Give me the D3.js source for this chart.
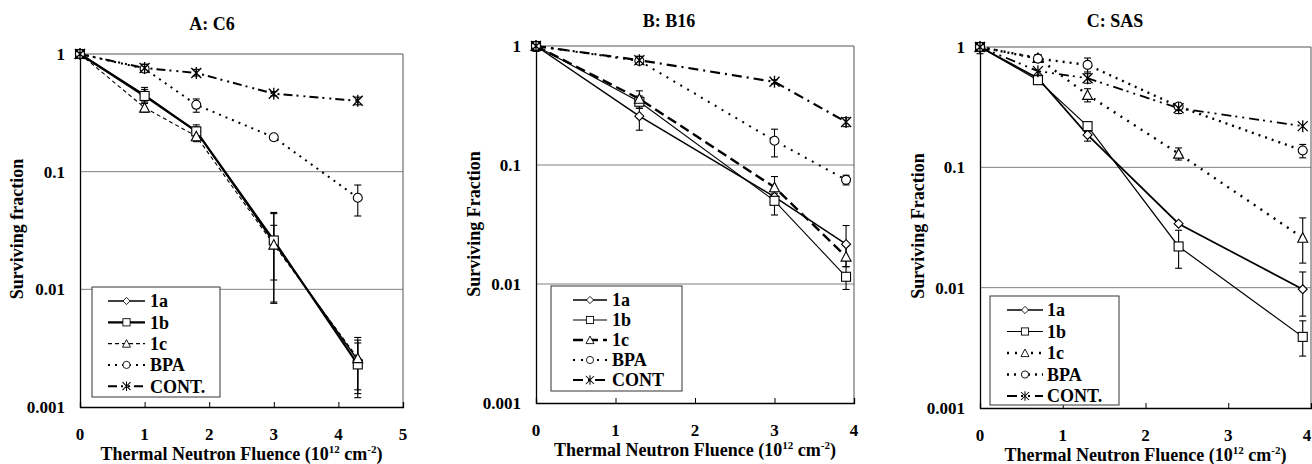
<!DOCTYPE html>
<html>
<head>
<meta charset="utf-8">
<script src="https://cdn.jsdelivr.net/npm/d3@7/dist/d3.min.js"></script>
<style>
  html, body { margin: 0; padding: 0; background: #fff; }
  svg { display: block; }
  text { font-family: "Liberation Serif", "Times New Roman", serif; font-weight: bold; fill: #000; }
</style>
</head>
<body>
<svg id="chart" width="1312" height="464"></svg>
<script>
// ---------------- DATA ----------------
const seriesNames = ["1a", "1b", "1c", "BPA", "CONT"];
const yTickValues = [1, 0.1, 0.01, 0.001];
const yTickLabels = ["1", "0.1", "0.01", "0.001"];

// Panel A: C6
const A_fluence = [0, 1, 1.8, 3, 4.3];
const A_1a   = [1, 0.45, 0.22, 0.025, 0.0025];
const A_1b   = [1, 0.44, 0.22, 0.026, 0.0023];
const A_1c   = [1, 0.35, 0.20, 0.024, 0.0026];
const A_BPA  = [1, 0.75, 0.37, 0.196, 0.06];
const A_CONT = [1, 0.76, 0.69, 0.46, 0.40];
const A_1a_lo   = [null, 0.40, 0.19, 0.012, 0.0013];
const A_1a_hi   = [null, 0.52, 0.25, 0.035, 0.0037];
const A_1b_lo   = [null, 0.39, 0.20, 0.0076, 0.0012];
const A_1b_hi   = [null, 0.50, 0.24, 0.045, 0.0039];
const A_1c_lo   = [null, 0.32, 0.18, 0.0078, 0.0014];
const A_1c_hi   = [null, 0.38, 0.23, 0.044, 0.0035];
const A_BPA_lo  = [null, 0.70, 0.32, null, 0.042];
const A_BPA_hi  = [null, 0.80, 0.415, null, 0.077];
const A_CONT_lo = [null, 0.71, 0.65, 0.44, 0.37];
const A_CONT_hi = [null, 0.82, 0.74, 0.48, 0.43];
const A_xTicks = [0, 1, 2, 3, 4, 5];
const A_legend = ["1a", "1b", "1c", "BPA", "CONT."];

// Panel B: B16
const B_fluence = [0, 1.3, 3, 3.9];
const B_1a   = [1, 0.257, 0.054, 0.0216];
const B_1b   = [1, 0.34, 0.05, 0.0115];
const B_1c   = [1, 0.36, 0.065, 0.017];
const B_BPA  = [1, 0.75, 0.16, 0.075];
const B_CONT = [1, 0.76, 0.50, 0.23];
const B_1a_lo   = [0.90, 0.196, null, 0.014];
const B_1a_hi   = [1.0, 0.30, null, 0.031];
const B_1b_lo   = [null, 0.30, 0.038, 0.009];
const B_1b_hi   = [null, 0.38, 0.058, 0.014];
const B_1c_lo   = [null, 0.32, 0.055, 0.014];
const B_1c_hi   = [null, 0.42, 0.08, 0.021];
const B_BPA_lo  = [null, 0.70, 0.117, 0.068];
const B_BPA_hi  = [null, 0.80, 0.20, 0.082];
const B_CONT_lo = [null, 0.70, 0.48, 0.21];
const B_CONT_hi = [null, 0.82, 0.52, 0.25];
const B_xTicks = [0, 1, 2, 3, 4];
const B_legend = ["1a", "1b", "1c", "BPA", "CONT"];

// Panel C: SAS
const C_fluence = [0, 0.7, 1.3, 2.4, 3.9];
const C_1a   = [1, 0.55, 0.186, 0.034, 0.0097];
const C_1b   = [1, 0.53, 0.22, 0.022, 0.0039];
const C_1c   = [1, 0.81, 0.40, 0.13, 0.026];
const C_BPA  = [1, 0.80, 0.71, 0.32, 0.138];
const C_CONT = [1, 0.63, 0.55, 0.31, 0.22];
const C_1a_lo   = [null, null, 0.165, null, 0.0058];
const C_1a_hi   = [null, null, 0.20, null, 0.0135];
const C_1b_lo   = [null, null, null, 0.0145, 0.0027];
const C_1b_hi   = [null, null, null, 0.030, 0.0053];
const C_1c_lo   = [null, 0.75, 0.35, 0.115, 0.016];
const C_1c_hi   = [null, 0.86, 0.45, 0.145, 0.038];
const C_BPA_lo  = [null, 0.75, 0.62, null, 0.12];
const C_BPA_hi  = [null, 0.86, 0.81, null, 0.155];
const C_CONT_lo = [0.88, null, 0.50, 0.28, null];
const C_CONT_hi = [1.0, null, 0.60, 0.34, null];
const C_xTicks = [0, 1, 2, 3, 4];
const C_legend = ["1a", "1b", "1c", "BPA", "CONT."];

// ---------------- STYLE / LAYOUT ----------------
const W = 1312;
const FS_TICK = 17, FS_TEXT = 18, FS_SUP = 11;

const panels = [
  { title: "A: C6", ylabel: "Surviving fraction",
    x: A_fluence, ys: [A_1a, A_1b, A_1c, A_BPA, A_CONT],
    lo: [A_1a_lo, A_1b_lo, A_1c_lo, A_BPA_lo, A_CONT_lo],
    hi: [A_1a_hi, A_1b_hi, A_1c_hi, A_BPA_hi, A_CONT_hi],
    xTicks: A_xTicks, legend: A_legend,
    box: { l: 80, r: 403, t: 54, b: 407 }, xmax: 5,
    titlePos: [212, 30], ylabelX: 17, ylabelY: 229,
    tickBase: 440, xtitleBase: 460,
    leg: { x: 92, y: 287, w: 128, h: 110, row: 21.3, x0: 108, x1: 145, tx: 150 },
    styles: [
      { w: 1.5, dash: null },
      { w: 2.2, dash: null },
      { w: 1.1, dash: "4,3" },
      { w: 2, dash: "2,5" },
      { w: 2, dash: "9,4,2,5,2,4" }
    ] },
  { title: "B: B16", ylabel: "Surviving Fraction",
    x: B_fluence, ys: [B_1a, B_1b, B_1c, B_BPA, B_CONT],
    lo: [B_1a_lo, B_1b_lo, B_1c_lo, B_BPA_lo, B_CONT_lo],
    hi: [B_1a_hi, B_1b_hi, B_1c_hi, B_BPA_hi, B_CONT_hi],
    xTicks: B_xTicks, legend: B_legend,
    box: { l: 536, r: 854, t: 46, b: 403 }, xmax: 4,
    titlePos: [669, 27], ylabelX: 474, ylabelY: 224,
    tickBase: 436, xtitleBase: 456,
    leg: { x: 551, y: 286, w: 131, h: 105, row: 20, x0: 573, x1: 607, tx: 612 },
    styles: [
      { w: 1.5, dash: null },
      { w: 1.1, dash: null },
      { w: 2.4, dash: "10,5" },
      { w: 2, dash: "2,6" },
      { w: 2.2, dash: "10,5,2,5" }
    ] },
  { title: "C: SAS", ylabel: "Surviving Fraction",
    x: C_fluence, ys: [C_1a, C_1b, C_1c, C_BPA, C_CONT],
    lo: [C_1a_lo, C_1b_lo, C_1c_lo, C_BPA_lo, C_CONT_lo],
    hi: [C_1a_hi, C_1b_hi, C_1c_hi, C_BPA_hi, C_CONT_hi],
    xTicks: C_xTicks, legend: C_legend,
    box: { l: 980, r: 1311, t: 47, b: 408 }, xmax: 4,
    titlePos: [1115, 27], ylabelX: 918, ylabelY: 226,
    tickBase: 441, xtitleBase: 461,
    leg: { x: 990, y: 296, w: 129, h: 109, row: 21.5, x0: 1007, x1: 1043, tx: 1047 },
    styles: [
      { w: 1.7, dash: null },
      { w: 1.2, dash: null },
      { w: 2.4, dash: "2,6" },
      { w: 2.4, dash: "2,5" },
      { w: 1.8, dash: "10,4,2,5,2,5" }
    ] }
];

const svg = d3.select("#chart");

function drawMarker(g, type, cx, cy) {
  const m = g.append("g").attr("transform", `translate(${cx},${cy})`);
  const st = s => s.attr("fill", "#fff").attr("stroke", "#000").attr("stroke-width", 1.1);
  if (type === 0) { // diamond
    st(m.append("path").attr("d", "M0,-4.5L4.5,0L0,4.5L-4.5,0Z"));
  } else if (type === 1) { // square
    st(m.append("rect").attr("x", -4.5).attr("y", -4.5).attr("width", 9).attr("height", 9));
  } else if (type === 2) { // triangle
    st(m.append("path").attr("d", "M0,-5L5,4.5L-5,4.5Z"));
  } else if (type === 3) { // circle
    st(m.append("circle").attr("r", 4.5));
  } else { // asterisk
    m.append("path").attr("d", "M-5,-5L5,5M-5,5L5,-5M0,-6L0,6")
      .attr("stroke", "#000").attr("stroke-width", 1.3).attr("fill", "none");
  }
}

panels.forEach(p => {
  const g = svg.append("g");
  const x = d3.scaleLinear().domain([0, p.xmax]).range([p.box.l, p.box.r]);
  const y = d3.scaleLog().domain([0.001, 1]).range([p.box.b, p.box.t]);

  // gridlines
  g.append("g").selectAll("line").data([0.1, 0.01]).join("line")
    .attr("x1", p.box.l).attr("x2", p.box.r)
    .attr("y1", d => y(d)).attr("y2", d => y(d))
    .attr("stroke", "#808080").attr("stroke-width", 1);

  // frame top/right
  g.append("path")
    .attr("d", `M${p.box.l},${p.box.t}H${p.box.r}V${p.box.b}`)
    .attr("fill", "none").attr("stroke", "#555").attr("stroke-width", 1);

  // bottom axis with inward ticks
  const xAxis = d3.axisBottom(x).tickValues(p.xTicks).tickSize(-5).tickFormat("");
  const gx = g.append("g").attr("transform", `translate(0,${p.box.b})`).call(xAxis);
  gx.select(".domain").attr("stroke", "#000").attr("stroke-width", 1.3);
  gx.selectAll(".tick line").attr("stroke", "#000");
  g.append("g").selectAll("text").data(p.xTicks).join("text")
    .attr("x", d => Math.min(x(d), W - 5)).attr("y", p.tickBase)
    .attr("text-anchor", "middle").attr("font-size", FS_TICK).text(d => d);

  // left axis
  const yAxis = d3.axisLeft(y).tickValues(yTickValues).tickSize(0).tickFormat("");
  const gy = g.append("g").attr("transform", `translate(${p.box.l},0)`).call(yAxis);
  gy.select(".domain").attr("stroke", "#000").attr("stroke-width", 1.3);
  g.append("g").selectAll("text").data(yTickValues).join("text")
    .attr("x", p.box.l - 15).attr("y", d => y(d)).attr("dy", "0.35em")
    .attr("text-anchor", "end").attr("font-size", FS_TICK)
    .text((d, i) => yTickLabels[i]);

  // titles
  g.append("text").attr("x", p.titlePos[0]).attr("y", p.titlePos[1])
    .attr("text-anchor", "middle").attr("font-size", FS_TEXT).text(p.title);
  g.append("text")
    .attr("transform", `translate(${p.ylabelX},${p.ylabelY}) rotate(-90)`)
    .attr("text-anchor", "middle").attr("dy", "0.35em").attr("font-size", FS_TEXT)
    .text(p.ylabel);
  const xt = g.append("text").attr("x", (p.box.l + p.box.r) / 2).attr("y", p.xtitleBase)
    .attr("text-anchor", "middle").attr("font-size", FS_TEXT);
  xt.append("tspan").text("Thermal Neutron Fluence (10");
  xt.append("tspan").attr("font-size", FS_SUP).attr("dy", -7).text("12");
  xt.append("tspan").attr("dy", 7).text(" cm");
  xt.append("tspan").attr("font-size", FS_SUP).attr("dy", -7).text("-2");
  xt.append("tspan").attr("dy", 7).text(")");

  // series lines
  const line = d3.line().x(d => x(d[0])).y(d => y(d[1]));
  p.ys.forEach((vals, si) => {
    const pts = p.x.map((xv, i) => [xv, vals[i]]);
    g.append("path").datum(pts).attr("d", line)
      .attr("fill", "none").attr("stroke", "#000")
      .attr("stroke-width", p.styles[si].w)
      .attr("stroke-dasharray", p.styles[si].dash);
  });

  // error bars
  p.ys.forEach((vals, si) => {
    p.x.forEach((xv, i) => {
      const lo = p.lo[si][i], hi = p.hi[si][i];
      if (lo == null || hi == null) return;
      const cx = x(xv);
      const eb = g.append("g").attr("stroke", "#000").attr("stroke-width", 1.1);
      eb.append("line").attr("x1", cx).attr("x2", cx).attr("y1", y(lo)).attr("y2", y(hi));
      eb.append("line").attr("x1", cx - 3.5).attr("x2", cx + 3.5).attr("y1", y(lo)).attr("y2", y(lo));
      eb.append("line").attr("x1", cx - 3.5).attr("x2", cx + 3.5).attr("y1", y(hi)).attr("y2", y(hi));
    });
  });

  // markers
  p.ys.forEach((vals, si) => {
    p.x.forEach((xv, i) => drawMarker(g, si, x(xv), y(vals[i])));
  });

  // legend
  const L = p.leg;
  g.append("rect").attr("x", L.x).attr("y", L.y).attr("width", L.w).attr("height", L.h)
    .attr("fill", "#fff").attr("stroke", "#333").attr("stroke-width", 1);
  p.legend.forEach((lab, si) => {
    const ly = L.y + 14 + si * L.row;
    g.append("line").attr("x1", L.x0).attr("x2", L.x1).attr("y1", ly).attr("y2", ly)
      .attr("stroke", "#000").attr("stroke-width", p.styles[si].w)
      .attr("stroke-dasharray", p.styles[si].dash);
    const lm = g.append("g").attr("transform", `translate(${(L.x0 + L.x1) / 2},${ly}) scale(0.8)`);
    drawMarker(lm, si, 0, 0);
    g.append("text").attr("x", L.tx).attr("y", ly).attr("dy", "0.35em")
      .attr("font-size", FS_TEXT).text(lab);
  });
});
</script>
</body>
</html>
